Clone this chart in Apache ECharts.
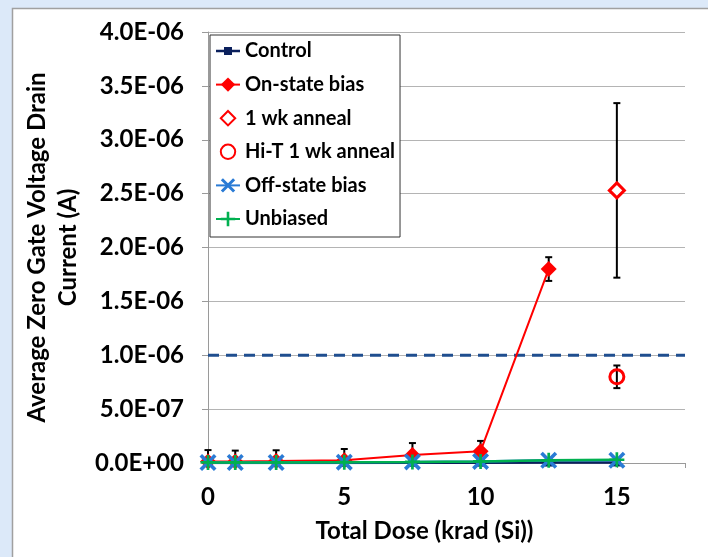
<!DOCTYPE html>
<html>
<head>
<meta charset="utf-8">
<script src="https://cdn.jsdelivr.net/npm/echarts@6/dist/echarts.min.js"></script>
<style>html,body{margin:0;padding:0;background:#dce9f9;}#c{width:708px;height:557px;}</style>
</head>
<body>
<div id="c"></div>
<script>
// ---- data ----
const doseX = [0, 1, 2.5, 5, 7.5, 10, 12.5, 15];
const controlY = [1e-9, 1e-9, 1e-9, 1e-9, 2e-9, 3e-9, 4e-9, 5e-9];
const onStateX = [0, 1, 2.5, 5, 7.5, 10, 12.5];
const onStateY = [1.5e-8, 1.5e-8, 1.8e-8, 2.5e-8, 7.5e-8, 1.1e-7, 1.80e-6];
const onStateErr = [1.05e-7, 1.0e-7, 1.0e-7, 1.05e-7, 1.1e-7, 9.5e-8, 1.1e-7];
const anneal1wkX = [15];
const anneal1wkY = [2.53e-6];
const anneal1wkErr = [8.1e-7];
const hiTAnnealX = [15];
const hiTAnnealY = [8.0e-7];
const hiTAnnealErr = [1.05e-7];
const offStateY = [5e-9, 5e-9, 5e-9, 8e-9, 1.0e-8, 1.5e-8, 2.5e-8, 2.5e-8];
const unbiasedY = [5e-9, 5e-9, 5e-9, 8e-9, 1.0e-8, 1.5e-8, 2.5e-8, 3.0e-8];
const thresholdY = 1.0e-6;
const xRange = [0, 17.5];
const seriesNames = ['Control', 'On-state bias', '1 wk anneal', 'Hi-T 1 wk anneal', 'Off-state bias', 'Unbiased'];

const FONT = 'Lato';
function pairs(xs, ys) { return xs.map((x, i) => [x, ys[i]]); }
function errPairs(xs, ys, es) { return xs.map((x, i) => [x, ys[i] - es[i], ys[i] + es[i]]); }
function sci(v) {
  if (Math.abs(v) < 1e-15) return '0.0E+00';
  let e = Math.floor(Math.log10(Math.abs(v)) + 1e-9);
  let m = v / Math.pow(10, e);
  if (m >= 9.95) { m /= 10; e++; }
  const ae = Math.abs(e);
  return m.toFixed(1) + 'E' + (e < 0 ? '-' : '+') + (ae < 10 ? '0' : '') + ae;
}
const xPath = 'path://M0,1.5L1.5,0L10,8.5L8.5,10Z M8.5,0L10,1.5L1.5,10L0,8.5Z';
const plusPath = 'path://M4.1,0L5.9,0L5.9,10L4.1,10Z M0,4.1L10,4.1L10,5.9L0,5.9Z';
// legend icon for Control: line + small square, with zero-area corner points to fix the box
const controlIcon = 'path://M0,0L0,0Z M24,18L24,18Z M0,7.7L24,7.7L24,10.3L0,10.3Z M8,5L16,5L16,13L8,13Z';

const errData = errPairs(onStateX, onStateY, onStateErr)
  .concat(errPairs(anneal1wkX, anneal1wkY, anneal1wkErr))
  .concat(errPairs(hiTAnnealX, hiTAnnealY, hiTAnnealErr));

const chart = echarts.init(document.getElementById('c'));
chart.setOption({
  backgroundColor: '#dce9f9',
  animation: false,
  textStyle: { fontFamily: FONT },
  graphic: [{
    type: 'rect', z: -10, silent: true,
    shape: { x: 12.5, y: 8.5, width: 800, height: 700 },
    style: { fill: '#ffffff', stroke: '#a0a0a0', lineWidth: 1.5 }
  }],
  grid: { left: 208, top: 32, width: 477, height: 431, containLabel: false, outerBoundsMode: 'none' },
  legend: {
    orient: 'vertical', left: 210, top: 35,
    data: seriesNames.map(n => n === 'Control'
      ? { name: n, icon: controlIcon, itemStyle: { borderWidth: 0 } }
      : { name: n }),
    backgroundColor: '#ffffff', borderColor: '#333', borderWidth: 1,
    padding: [6, 5, 8, 5], itemGap: 13.6, itemWidth: 24, itemHeight: 18, itemTextGap: 2,
    textStyle: { fontFamily: FONT, fontWeight: 'bold', fontSize: 20, color: '#000', lineHeight: 20 }
  },
  xAxis: {
    type: 'value', min: xRange[0], max: xRange[1], interval: 5,
    name: 'Total Dose (krad (Si))', nameLocation: 'middle', nameGap: 56,
    nameTextStyle: { fontFamily: FONT, fontWeight: 'bold', fontSize: 24, color: '#000', padding: [0, 44, 0, 0] },
    axisLine: { lineStyle: { color: '#9a9a9a', width: 1 } },
    axisTick: { show: true, length: 5, lineStyle: { color: '#9a9a9a' } },
    splitLine: { show: false },
    axisLabel: { fontFamily: FONT, fontWeight: 'bold', fontSize: 24, color: '#000', margin: 22,
      formatter: v => (v % 5 === 0 ? String(v) : '') }
  },
  yAxis: {
    type: 'value', min: 0, max: 4e-6, interval: 5e-7,
    name: 'Average Zero Gate Voltage Drain\nCurrent (A)', nameLocation: 'middle', nameGap: 119,
    nameTextStyle: { fontFamily: FONT, fontWeight: 'bold', fontSize: 24, color: '#000', lineHeight: 31 },
    axisLine: { show: true, lineStyle: { color: '#9a9a9a', width: 1 } },
    axisTick: { show: true, length: 6, lineStyle: { color: '#9a9a9a' } },
    splitLine: { lineStyle: { color: '#b4b4b4', width: 1 } },
    axisLabel: { fontFamily: FONT, fontWeight: 'bold', fontSize: 24, color: '#000', margin: 24, formatter: sci }
  },
  series: [
    {
      name: 'threshold', type: 'line', data: [[xRange[0], thresholdY], [xRange[1], thresholdY]],
      symbol: 'none', silent: true, z: 1,
      lineStyle: { color: '#1f4e8f', width: 3, type: [11, 7] }
    },
    {
      name: 'Control', type: 'line', data: pairs(doseX, controlY),
      symbol: 'rect', symbolSize: 8,
      itemStyle: { color: '#0a1f5c' }, lineStyle: { color: '#0a1f5c', width: 2.5 }
    },
    {
      name: 'errorbars', type: 'custom', z: 3, silent: true, data: errData,
      encode: { x: 0, y: [1, 2] },
      renderItem: function (params, api) {
        const x = api.value(0);
        const lo = Math.max(0, api.value(1));
        const hi = api.value(2);
        const pTop = api.coord([x, hi]);
        const pBot = api.coord([x, lo]);
        const cap = 3.5;
        const st = { stroke: '#000', lineWidth: 2 };
        return {
          type: 'group', children: [
            { type: 'line', shape: { x1: pTop[0], y1: pTop[1], x2: pBot[0], y2: pBot[1] }, style: st },
            { type: 'line', shape: { x1: pTop[0] - cap, y1: pTop[1], x2: pTop[0] + cap, y2: pTop[1] }, style: st },
            { type: 'line', shape: { x1: pBot[0] - cap, y1: pBot[1], x2: pBot[0] + cap, y2: pBot[1] }, style: st }
          ]
        };
      }
    },
    {
      name: 'On-state bias', type: 'line', data: pairs(onStateX, onStateY), z: 4,
      symbol: 'diamond', symbolSize: 16,
      itemStyle: { color: '#ff0000' }, lineStyle: { color: '#ff0000', width: 2 }
    },
    {
      name: '1 wk anneal', type: 'line', data: pairs(anneal1wkX, anneal1wkY), z: 4,
      symbol: 'diamond', symbolSize: 15,
      itemStyle: { color: '#ffffff', borderColor: '#ff0000', borderWidth: 3 },
      lineStyle: { opacity: 0 }
    },
    {
      name: 'Hi-T 1 wk anneal', type: 'line', data: pairs(hiTAnnealX, hiTAnnealY), z: 4,
      symbol: 'circle', symbolSize: 14,
      itemStyle: { color: 'rgba(255,255,255,0)', borderColor: '#ff0000', borderWidth: 3 },
      lineStyle: { opacity: 0 }
    },
    {
      name: 'Off-state bias', type: 'line', data: pairs(doseX, offStateY), z: 5,
      symbol: xPath, symbolSize: 17,
      itemStyle: { color: '#2a7bd5' }, lineStyle: { color: '#2a7bd5', width: 2.5 }
    },
    {
      name: 'Unbiased', type: 'line', data: pairs(doseX, unbiasedY), z: 6,
      symbol: plusPath, symbolSize: 15,
      itemStyle: { color: '#00b050' }, lineStyle: { color: '#00b050', width: 2.5 }
    }
  ]
});
</script>
</body>
</html>
